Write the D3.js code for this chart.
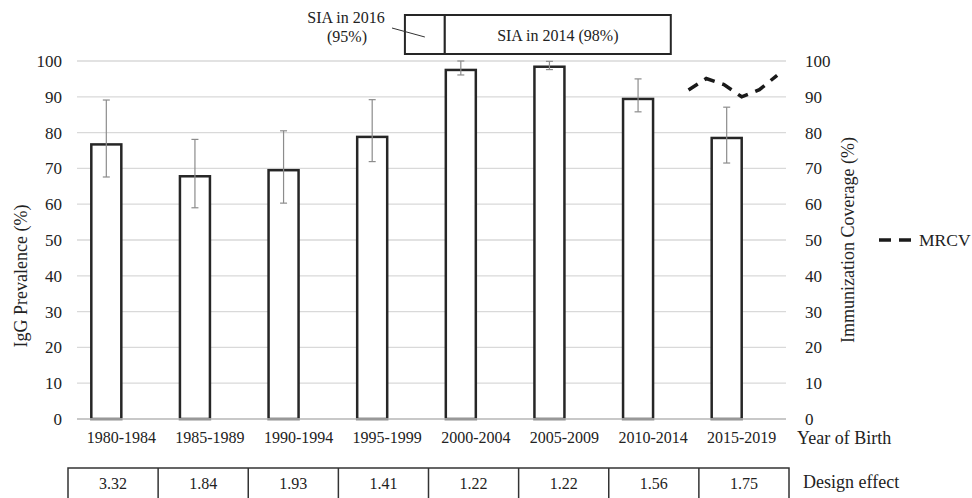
<!DOCTYPE html>
<html>
<head>
<meta charset="utf-8">
<script src="https://cdn.jsdelivr.net/npm/d3@7.9.0/dist/d3.min.js"></script>
<style>
  html, body { margin: 0; padding: 0; background: #fff; }
  svg { display: block; font-family: "Liberation Serif", "Times New Roman", serif; }
  text { fill: #222; }
</style>
</head>
<body>
<svg id="chart" width="972" height="498"></svg>
<script>
// ---- data ----
const categories = ['1980-1984', '1985-1989', '1990-1994', '1995-1999',
                    '2000-2004', '2005-2009', '2010-2014', '2015-2019'];
const prevalence = [76.7, 67.8, 69.5, 78.8, 97.5, 98.4, 89.4, 78.5];
const ciLow      = [67.6, 59.0, 60.3, 71.9, 96.1, 97.6, 85.8, 71.5];
const ciHigh     = [89.1, 78.1, 80.5, 89.2, 100, 99.9, 95.0, 87.1];
const designEffect = ['3.32', '1.84', '1.93', '1.41', '1.22', '1.22', '1.56', '1.75'];

const mrcvYears  = [2014, 2015, 2016, 2017, 2018, 2019];
const mrcvValues = [91.9, 95.1, 93.4, 90.0, 92.0, 96.0];

const yTicks = d3.range(0, 101, 10);

// SIA annotation spans, in birth-year units
const siaSpans = [
  { label: 'SIA in 2016', sub: '(95%)', from: 1998.5, to: 2000.75 },
  { label: 'SIA in 2014 (98%)', from: 2000.75, to: 2013.5 }
];

// ---- layout ----
const plot = { left: 77, right: 786, top: 61, bottom: 419 };
const svg = d3.select('#chart');

const x = d3.scaleBand().domain(categories).range([plot.left, plot.right]);
// Excel-style cluster: IgG bar first, an empty second slot
const sub = d3.scaleBand().domain(['IgG', 'blank']).range([0, x.bandwidth()]).paddingOuter(0.477);
const yearX = d3.scaleLinear().domain([1980, 2020]).range([plot.left, plot.right]);
const y = d3.scaleLinear().domain([0, 100]).range([plot.bottom, plot.top]);
const tableX = d3.scaleBand().domain(categories).range([68, 789]);

// gridlines
svg.append('g')
  .attr('class', 'grid')
  .selectAll('line')
  .data(yTicks)
  .join('line')
    .attr('x1', plot.left).attr('x2', plot.right)
    .attr('y1', d => y(d)).attr('y2', d => y(d))
    .attr('stroke', '#d9d9d9').attr('stroke-width', 1.3);

// left axis labels
svg.append('g')
  .selectAll('text')
  .data(yTicks)
  .join('text')
    .attr('x', 62).attr('y', d => y(d)).attr('dy', '0.35em')
    .attr('text-anchor', 'end').attr('font-size', 17)
    .text(d => d);

// right axis labels
svg.append('g')
  .selectAll('text')
  .data(yTicks)
  .join('text')
    .attr('x', 805).attr('y', d => y(d)).attr('dy', '0.35em')
    .attr('text-anchor', 'start').attr('font-size', 17)
    .text(d => d);

// axis titles
svg.append('text')
  .attr('transform', `translate(27, ${276}) rotate(-90)`)
  .attr('text-anchor', 'middle').attr('font-size', 18)
  .text('IgG Prevalence (%)');

svg.append('text')
  .attr('transform', `translate(854, ${240}) rotate(-90)`)
  .attr('text-anchor', 'middle').attr('font-size', 18)
  .text('Immunization Coverage (%)');

// bars
const bars = categories.map((c, i) => ({ c, v: prevalence[i], lo: ciLow[i], hi: ciHigh[i] }));
svg.append('g')
  .selectAll('rect')
  .data(bars)
  .join('rect')
    .attr('x', d => x(d.c) + sub('IgG'))
    .attr('width', sub.bandwidth())
    .attr('y', d => y(d.v))
    .attr('height', d => y(0) - y(d.v))
    .attr('fill', '#fff')
    .attr('stroke', '#262626').attr('stroke-width', 2.5);

// baseline over bar bottoms
svg.append('line')
  .attr('x1', plot.left).attr('x2', plot.right)
  .attr('y1', y(0)).attr('y2', y(0))
  .attr('stroke', '#bfbfbf').attr('stroke-width', 1.5);

// error bars
const cx = d => x(d.c) + sub('IgG') + sub.bandwidth() / 2;
const err = svg.append('g').attr('stroke', '#8c8c8c').attr('stroke-width', 1.2);
err.selectAll('line.v')
  .data(bars)
  .join('line').attr('class', 'v')
    .attr('x1', cx).attr('x2', cx)
    .attr('y1', d => y(d.lo)).attr('y2', d => y(d.hi));
err.selectAll('line.hi')
  .data(bars)
  .join('line').attr('class', 'hi')
    .attr('x1', d => cx(d) - 3.5).attr('x2', d => cx(d) + 3.5)
    .attr('y1', d => y(d.hi)).attr('y2', d => y(d.hi));
err.selectAll('line.lo')
  .data(bars)
  .join('line').attr('class', 'lo')
    .attr('x1', d => cx(d) - 3.5).attr('x2', d => cx(d) + 3.5)
    .attr('y1', d => y(d.lo)).attr('y2', d => y(d.lo));

// MRCV dashed line
const mrcv = mrcvYears.map((yr, i) => [yr + 0.5, mrcvValues[i]]);
svg.append('path')
  .datum(mrcv)
  .attr('fill', 'none')
  .attr('stroke', '#1a1a1a').attr('stroke-width', 3.5)
  .attr('stroke-dasharray', '11,8')
  .attr('d', d3.line().x(d => yearX(d[0])).y(d => y(d[1])));

// legend
svg.append('line')
  .attr('x1', 879).attr('x2', 913).attr('y1', y(50)).attr('y2', y(50))
  .attr('stroke', '#1a1a1a').attr('stroke-width', 3.5)
  .attr('stroke-dasharray', '12,8');
svg.append('text')
  .attr('x', 919).attr('y', y(50)).attr('dy', '0.35em')
  .attr('font-size', 17.5)
  .text('MRCV');

// category labels
svg.append('g')
  .selectAll('text')
  .data(categories)
  .join('text')
    .attr('x', d => x(d) + x.bandwidth() / 2)
    .attr('y', 443)
    .attr('text-anchor', 'middle').attr('font-size', 16)
    .text(d => d);

svg.append('text')
  .attr('x', 797).attr('y', 444)
  .attr('font-size', 18)
  .text('Year of Birth');

// design effect table
const tbl = svg.append('g');
tbl.append('rect')
  .attr('x', tableX.range()[0]).attr('y', 468)
  .attr('width', tableX.range()[1] - tableX.range()[0]).attr('height', 45)
  .attr('fill', 'none').attr('stroke', '#333').attr('stroke-width', 1.5);
tbl.selectAll('line')
  .data(categories.slice(1))
  .join('line')
    .attr('x1', d => tableX(d)).attr('x2', d => tableX(d))
    .attr('y1', 468).attr('y2', 513)
    .attr('stroke', '#333').attr('stroke-width', 1.5);
tbl.selectAll('text')
  .data(designEffect)
  .join('text')
    .attr('x', (d, i) => tableX(categories[i]) + tableX.bandwidth() / 2)
    .attr('y', 489)
    .attr('text-anchor', 'middle').attr('font-size', 16)
    .text(d => d);

svg.append('text')
  .attr('x', 803).attr('y', 488)
  .attr('font-size', 18)
  .text('Design effect');

// SIA annotation boxes
const ann = svg.append('g');
ann.selectAll('rect')
  .data(siaSpans)
  .join('rect')
    .attr('x', d => yearX(d.from))
    .attr('width', d => yearX(d.to) - yearX(d.from))
    .attr('y', 15).attr('height', 39)
    .attr('fill', '#fff')
    .attr('stroke', '#262626').attr('stroke-width', 2);

const sia14 = siaSpans[1];
ann.append('text')
  .attr('x', (yearX(sia14.from) + yearX(sia14.to)) / 2)
  .attr('y', 41)
  .attr('text-anchor', 'middle').attr('font-size', 16)
  .text(sia14.label);

const sia16 = siaSpans[0];
ann.append('text')
  .attr('x', 346).attr('y', 23)
  .attr('text-anchor', 'middle').attr('font-size', 16)
  .text(sia16.label);
ann.append('text')
  .attr('x', 347).attr('y', 42)
  .attr('text-anchor', 'middle').attr('font-size', 16)
  .text(sia16.sub);
ann.append('line')
  .attr('x1', 392).attr('y1', 28)
  .attr('x2', (yearX(sia16.from) + yearX(sia16.to)) / 2).attr('y2', 37)
  .attr('stroke', '#333').attr('stroke-width', 1);
</script>
</body>
</html>
